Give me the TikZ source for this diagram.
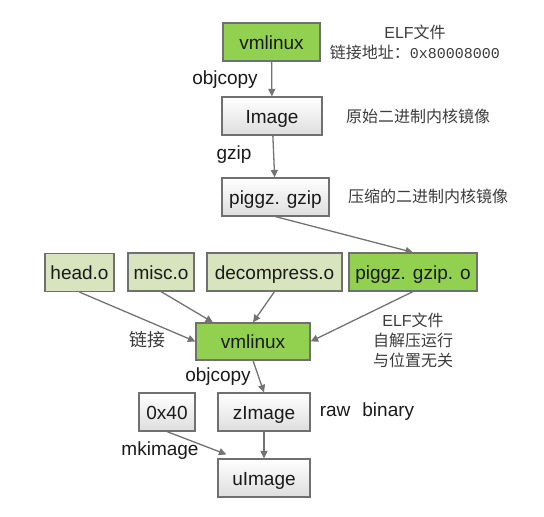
\documentclass[tikz,border=0pt]{standalone}
\usepackage{fontspec}
\setmainfont{Liberation Sans}
\newfontfamily\cjk{Noto Sans CJK SC}
\usepackage{tikz}
\usetikzlibrary{arrows.meta}

\definecolor{grnfill}{HTML}{92D050}
\definecolor{palefill}{HTML}{D7E4BD}
\definecolor{edge}{HTML}{707070}
\definecolor{ink}{HTML}{1A1A1A}

\newcommand{\elf}{{\normalfont ELF}}

\begin{document}
\begin{tikzpicture}[x=1pt, y=-1pt,
    box/.style={draw=edge, line width=1.2pt, inner sep=0pt, minimum height=38pt,
                text height=14.6pt, text depth=0pt,
                text=ink, font=\fontsize{19}{22}\selectfont},
    grn/.style={box, fill=grnfill},
    pale/.style={box, fill=palefill},
    gry/.style={box, top color=white, bottom color=black!13},
    arr/.style={-{Triangle[length=7.5pt, width=7pt]}, draw=black!55, line width=1.3pt},
    lbl/.style={text=ink, font=\fontsize{19}{22}\selectfont},
    cn/.style={text=ink!85, font=\cjk\fontsize{16}{20}\selectfont, align=center}]
  \useasboundingbox (0,0) rectangle (544,517);
  % upper chain
  \node[grn, minimum width=97pt]  (vma) at (271.5,42) {vmlinux};
  \node[gry, minimum width=100pt] (img) at (272,116)  {Image};
  \node[gry, minimum width=107pt] (pgz) at (275.5,197) {piggz. gzip};
  % objects to be linked
  \node[pale, minimum width=69pt]  (head) at (79.5,272.5) {head.o};
  \node[pale, minimum width=66pt]  (misc) at (161,272)   {misc.o};
  \node[pale, minimum width=135pt] (dec)  at (274.5,272) {decompress.o};
  \node[grn,  minimum width=128pt] (pgzo) at (413,272)   {piggz. gzip. o};
  % lower chain
  \node[grn, minimum width=114pt, minimum height=37pt] (vmb) at (253,341.5) {vmlinux};
  \node[gry, minimum width=56pt] (hex)  at (167,412) {0x40};
  \node[gry, minimum width=92pt] (zimg) at (264,412) {zImage};
  \node[gry, minimum width=92pt] (uimg) at (264,478) {uImage};
  % notes
  \node[cn] (elfa) at (415,32) {\elf 文件};
  \node[cn] (addr) at (415,52) {链接地址：\fontspec{Liberation Mono}\fontsize{15}{20}\selectfont 0x80008000};
  \node[cn] (raw)  at (418,116) {原始二进制内核镜像};
  \node[cn] (cmp)  at (428,196) {压缩的二进制内核镜像};
  \node[cn, font=\cjk\fontsize{18}{20}\selectfont] (lnk) at (147,340) {链接};
  \node[cn] (elfb) at (413,340) {\elf 文件\\自解压运行\\与位置无关};
  \node[lbl] (oca) at (225,80)  {objcopy};
  \node[lbl] (gz)  at (234,155) {gzip};
  \node[lbl] (ocb) at (218,377) {objcopy};
  \node[lbl] (bin) at (367,412) {raw\hspace{12pt}binary};
  \node[lbl] (mki) at (160,451) {mkimage};
  % connectors
  \draw[arr] (vma) -- (img);
  \draw[arr] (img) -- (pgz);
  \draw[arr] (pgz.south) -- (pgzo.north);
  \draw[arr] (head.south) -- (vmb.west);
  \draw[arr] (misc.south) -- ([xshift=-40pt]vmb.north);
  \draw[arr] (dec.south) -- (vmb.north);
  \draw[arr] (pgzo.south) -- (vmb.east);
  \draw[arr] (vmb.south) -- (zimg.north);
  \draw[arr] (zimg) -- (uimg);
  \draw[arr] (hex.south) -- ([xshift=9pt, yshift=4pt]uimg.north west);
\end{tikzpicture}
\end{document}
